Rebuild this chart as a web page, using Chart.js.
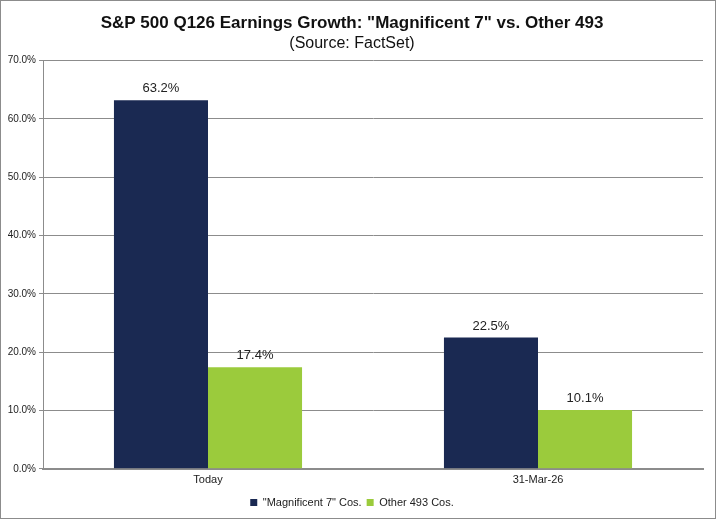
<!DOCTYPE html>
<html>
<head>
<meta charset="utf-8">
<script src="https://cdn.jsdelivr.net/npm/chart.js@4"></script>
<style>
  html, body { margin: 0; padding: 0; background: #fff; }
  #wrap { position: absolute; left: 0; top: 0; width: 714px; height: 517px; border: 1px solid #8c8c8c; }
  canvas { display: block; }
</style>
</head>
<body>
<div id="wrap"><canvas id="myChart" width="714" height="517"></canvas></div>
<script>
const categories = ['Today', '31-Mar-26'];
const mag7 = [63.2, 22.5];
const other493 = [17.4, 10.1];
const yTicks = [0, 10, 20, 30, 40, 50, 60, 70];

// simple value labels above bars
const barLabels = {
    id: 'barLabels',
    afterDatasetsDraw(chart) {
        const c = chart.ctx;
        c.save();
        c.font = '13px "Liberation Sans", Arial, sans-serif';
        c.fillStyle = '#222';
        c.textAlign = 'center';
        c.textBaseline = 'bottom';
        chart.data.datasets.forEach((ds, i) => {
            chart.getDatasetMeta(i).data.forEach((bar, j) => {
                c.fillText(ds.data[j].toFixed(1) + '%', bar.x, bar.y - 5);
            });
        });
        c.restore();
    }
};

const ctx = document.getElementById('myChart').getContext('2d');
const myChart = new Chart(ctx, {
    type: 'bar',
    data: {
        labels: categories,
        datasets: [{
            label: '"Magnificent 7" Cos.',
            data: mag7,
            backgroundColor: '#1A2952',
            borderWidth: 0
        }, {
            label: 'Other 493 Cos.',
            data: other493,
            backgroundColor: '#9BCB3C',
            borderWidth: 0
        }]
    },
    options: {
        responsive: false,
        animation: false,
        layout: { padding: { top: 0, right: 12, bottom: 0, left: 0 } },
        datasets: { bar: { categoryPercentage: 0.57, barPercentage: 1.0 } },
        scales: {
            x: {
                grid: { display: false, drawTicks: false },
                border: { color: '#8c8c8c', width: 2 },
                ticks: { color: '#222', padding: 5, font: { family: '"Liberation Sans", Arial', size: 11 } }
            },
            y: {
                min: 0,
                max: 70,
                afterBuildTicks(scale) { scale.ticks = yTicks.map(v => ({ value: v })); },
                afterFit(scale) { scale.width = 42; },
                grid: { color: '#8c8c8c', lineWidth: 1, drawTicks: true, tickLength: 4 },
                border: { color: '#8c8c8c', width: 1 },
                ticks: {
                    color: '#222',
                    padding: 3,
                    font: { family: '"Liberation Sans", Arial', size: 10 },
                    callback: v => v.toFixed(1) + '%'
                }
            }
        },
        plugins: {
            title: {
                display: true,
                text: 'S&P 500 Q126 Earnings Growth: "Magnificent 7" vs. Other 493',
                color: '#111',
                font: { family: '"Liberation Sans", Arial', size: 17, weight: 'bold' },
                padding: { top: 12, bottom: 1 }
            },
            subtitle: {
                display: true,
                text: '(Source: FactSet)',
                color: '#111',
                font: { family: '"Liberation Sans", Arial', size: 16 },
                padding: { top: 0, bottom: 7 }
            },
            legend: {
                position: 'bottom',
                labels: {
                    color: '#222',
                    boxWidth: 7,
                    boxHeight: 7,
                    padding: 5,
                    font: { family: '"Liberation Sans", Arial', size: 11 }
                }
            },
            tooltip: { enabled: false }
        }
    },
    plugins: [barLabels]
});
</script>
</body>
</html>
